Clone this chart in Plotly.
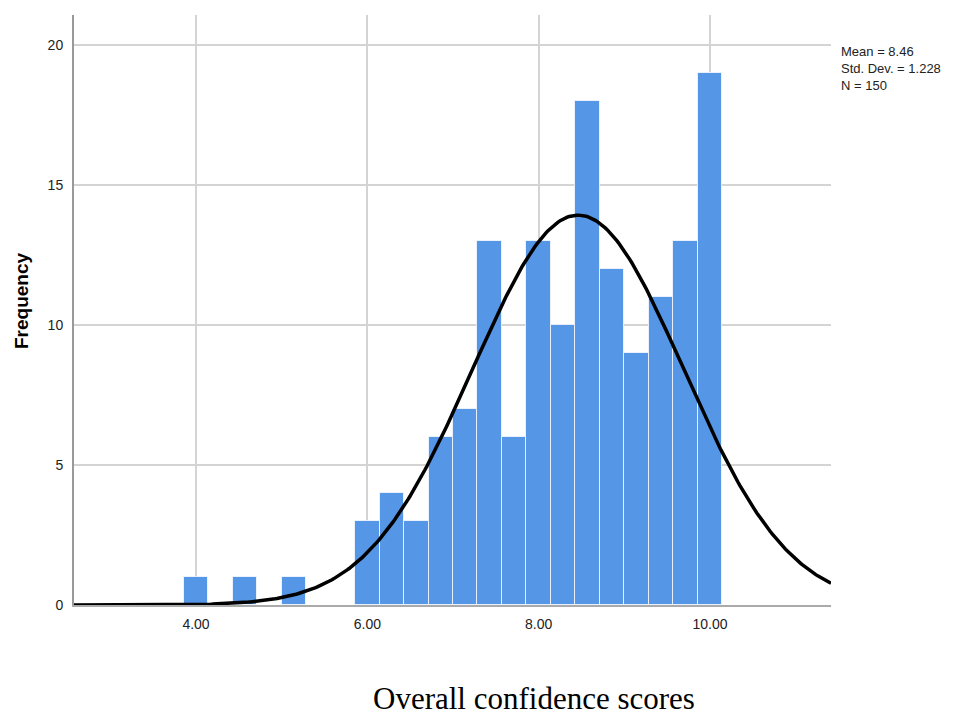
import numpy as np
import plotly.graph_objects as go

# Histogram bins (bin width 2/7) and counts
bin_width = 2 / 7
bin_centers = [4 + k * bin_width for k in [0, 2, 4, 7, 8, 9, 10, 11, 12, 13, 14, 15, 16, 17, 18, 19, 20, 21]]
counts = [1, 1, 1, 3, 4, 3, 6, 7, 13, 6, 13, 10, 18, 12, 9, 11, 13, 19]

# Summary statistics
mean_val = 8.46
std_val = 1.228
n_val = 150

x_range = [2.576, 11.412]
y_range = [0, 21.07]

# Fitted normal curve scaled to counts
xs = np.linspace(x_range[0], x_range[1], 400)
ys = n_val * bin_width / (std_val * np.sqrt(2 * np.pi)) * np.exp(-0.5 * ((xs - mean_val) / std_val) ** 2)

fig = go.Figure()
fig.add_trace(go.Bar(
    x=bin_centers, y=counts, width=bin_width,
    marker=dict(color="#5596E6", line=dict(color="rgba(255,255,255,0.75)", width=1)),
    hoverinfo="x+y",
))
fig.add_trace(go.Scatter(
    x=xs, y=ys, mode="lines",
    line=dict(color="black", width=3.5),
    hoverinfo="skip",
))

fig.update_layout(
    width=953, height=719,
    margin=dict(l=74, r=122, t=15, b=114),
    paper_bgcolor="white", plot_bgcolor="white",
    showlegend=False,
    bargap=0,
    font=dict(family="Arial, Liberation Sans, sans-serif", size=12, color="#222"),
)
fig.update_xaxes(
    range=x_range, tickvals=[4, 6, 8, 10], ticktext=["4.00", "6.00", "8.00", "10.00"],
    showgrid=True, gridcolor="#d4d4d4", gridwidth=1.5,
    showline=True, linecolor="#aaaaaa", linewidth=2,
    ticks="", ticklabelstandoff=5, zeroline=False,
    tickfont=dict(size=14, color="#222"),
)
fig.update_yaxes(
    range=y_range, tickvals=[0, 5, 10, 15, 20],
    showgrid=True, gridcolor="#d4d4d4", gridwidth=1.5,
    showline=True, linecolor="#999999", linewidth=2,
    ticks="", ticklabelstandoff=6, zeroline=False,
    tickfont=dict(size=14, color="#222"),
)

stats_text = f"Mean = {mean_val:.2f}<br>Std. Dev. = {std_val:.3f}<br>N = {n_val}"
fig.add_annotation(
    text=stats_text, xref="paper", yref="paper",
    x=(840 - 74) / 757, y=(605 - 68) / 590,
    xanchor="left", yanchor="middle", align="left", showarrow=False, borderpad=0,
    font=dict(family="Arial, Liberation Sans, sans-serif", size=13, color="#222"),
)

fig.add_annotation(
    text="Overall confidence scores", xref="paper", yref="paper",
    x=(534 - 74) / 757, y=(605 - 698) / 590,
    xanchor="center", yanchor="middle", showarrow=False, borderpad=0,
    font=dict(family="Liberation Serif, Times New Roman, serif", size=31, color="black"),
)
fig.add_annotation(
    text="<b>Frequency</b>", xref="paper", yref="paper",
    x=(21 - 74) / 757, y=(605 - 300) / 590, textangle=-90,
    xanchor="center", yanchor="middle", showarrow=False,
    font=dict(family="Arial, Liberation Sans, sans-serif", size=19, color="black"),
)

fig.write_html("out.html")
